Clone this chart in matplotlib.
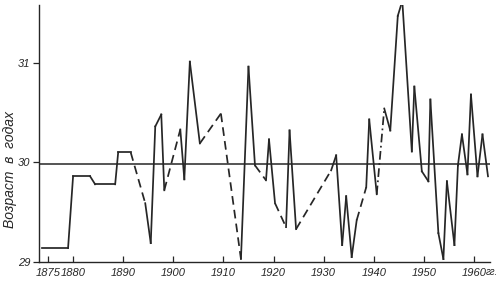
import matplotlib
matplotlib.use("Agg")
import matplotlib.pyplot as plt

# years and mean age in years
years = [1873.8, 1879, 1880, 1883.4, 1884.4, 1888.4, 1889, 1891.5, 1894.4, 1895.5,
         1896.4, 1897.6, 1898.2, 1901.4, 1902.2, 1903.3, 1905.3, 1909.5, 1913.5, 1915,
         1916.3, 1918.5, 1919.1, 1920.3, 1922.5, 1923.2, 1924.5, 1931.5, 1932.5, 1933.7,
         1934.5, 1935.6, 1936.6, 1938.5, 1939.1, 1940.6, 1942.1, 1943.3, 1944.8, 1945.7,
         1947.6, 1948.1, 1949.6, 1950.9, 1951.3, 1952.9, 1953.9, 1954.6, 1956.1, 1956.8,
         1957.6, 1958.7, 1959.4, 1960.7, 1961.7, 1962.8]
ages = [29.14, 29.14, 29.86, 29.86, 29.78, 29.78, 30.10, 30.10, 29.59, 29.19,
        30.36, 30.48, 29.72, 30.33, 29.83, 31.01, 30.19, 30.49, 29.03, 30.96,
        29.97, 29.82, 30.23, 29.59, 29.35, 30.32, 29.33, 29.92, 30.07, 29.17,
        29.66, 29.05, 29.42, 29.75, 30.43, 29.68, 30.54, 30.32, 31.47, 31.62,
        30.11, 30.76, 29.91, 29.81, 30.63, 29.29, 29.03, 29.81, 29.17, 29.97,
        30.28, 29.88, 30.68, 29.86, 30.28, 29.86]
# style of each segment between consecutive points: S solid, D dashed, C dash-dot
seg_style = "SSSSSSSDSSSSDSSSDDSSDSSDSSDSSSSSDSSCSSSSSSSSSSSSSSSSSSS"
mean_age = 29.98

xticks = [1875, 1880, 1890, 1900, 1910, 1920, 1930, 1940, 1950, 1960]
yticks = [29, 30, 31]

ink = "#262626"
fig = plt.figure(figsize=(5.0, 2.87), dpi=100)
ax = fig.add_axes([0.078, 0.087, 0.902, 0.896])

dash = {"S": "-", "D": (0, (5, 3)), "C": (0, (5, 2, 1, 2))}
for i, st in enumerate(seg_style):
    ax.plot(years[i:i + 2], ages[i:i + 2], color=ink, lw=1.25,
            linestyle=dash[st], solid_joinstyle="miter")

ax.axhline(mean_age, color=ink, lw=1.1)

ax.set_xlim(1873.2, 1963.2)
ax.set_ylim(29.0, 31.58)
for s in ("top", "right"):
    ax.spines[s].set_visible(False)
for s in ("left", "bottom"):
    ax.spines[s].set_color(ink)
    ax.spines[s].set_linewidth(1.0)

tick_font = dict(family=["Liberation Sans Narrow", "Liberation Sans", "DejaVu Sans"],
                 style="italic", size=8, color=ink)
ax.set_xticks(xticks)
ax.set_xticklabels([str(t) for t in xticks], **tick_font)
ax.set_yticks(yticks)
ax.set_yticklabels([str(t) for t in yticks], **tick_font)
ax.tick_params(axis="x", direction="in", length=4, width=0.9, color=ink, pad=4)
ax.tick_params(axis="y", direction="out", length=4, width=0.9, color=ink, pad=2)

ax.annotate("гг.", xy=(1960, 0), xycoords=("data", "axes fraction"),
            xytext=(8.8, -7.5), textcoords="offset points", ha="left", va="center",
            **dict(tick_font, size=7))

fig.text(0.021, 0.41, "Возраст  в  годах", rotation=90, ha="center", va="center",
         family=["Liberation Sans", "DejaVu Sans"], style="italic", size=10, color=ink)

fig.savefig("out.png", dpi=100, facecolor="white")
